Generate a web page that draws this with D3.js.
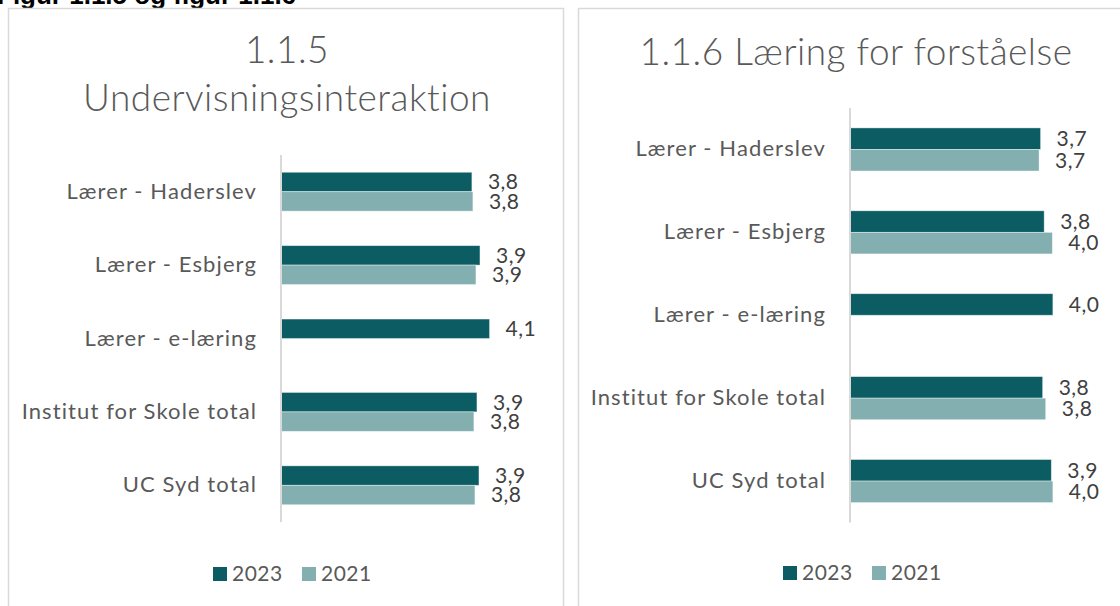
<!DOCTYPE html>
<html>
<head>
<meta charset="utf-8">
<script src="https://cdn.jsdelivr.net/npm/d3@7"></script>
<style>
  body { margin: 0; background: #fff; }
  svg text { font-family: Lato, "Noto Sans", sans-serif; }
</style>
</head>
<body>
<div id="chart"></div>
<script>
var categories = ["Lærer - Haderslev", "Lærer - Esbjerg", "Lærer - e-læring", "Institut for Skole total", "UC Syd total"];
var years = ["2023", "2021"];

// 1.1.5 Undervisningsinteraktion
var interaktion2023 = [3.78, 3.94, 4.13, 3.88, 3.92];
var interaktion2021 = [3.80, 3.86, null, 3.82, 3.84];

// 1.1.6 Læring for forståelse
var forstaaelse2023 = [3.73, 3.80, 3.97, 3.77, 3.94];
var forstaaelse2021 = [3.70, 3.96, null, 3.83, 3.97];

var colors = {"2023": "#0b5d63", "2021": "#84afb1"};
var fmt = function(v) { return d3.format(".1f")(v).replace(".", ","); };

var svg = d3.select("#chart")
  .append("svg")
  .attr("width", 1120)
  .attr("height", 606);

// heading, cut at the top of the page
svg.append("text")
  .attr("x", -3)
  .attr("y", 4)
  .style("font-family", "'Liberation Sans', Arial, sans-serif")
  .style("font-weight", "bold")
  .style("font-size", "26px")
  .attr("fill", "#000")
  .text("Figur 1.1.5 og figur 1.1.6");

// panel frames
svg.append("rect")
  .attr("x", 8.5).attr("y", 8.5)
  .attr("width", 555).attr("height", 640)
  .attr("fill", "none").attr("stroke", "#d9d9d9").attr("stroke-width", 1.5);

svg.append("rect")
  .attr("x", 578.5).attr("y", 8.5)
  .attr("width", 600).attr("height", 640)
  .attr("fill", "none").attr("stroke", "#d9d9d9").attr("stroke-width", 1.5);

function drawPanel(p) {
  var g = svg.append("g");

  // title
  var title = g.append("text")
    .attr("text-anchor", "middle")
    .attr("fill", "#595959")
    .style("font-size", "37px")
    .style("font-weight", 300)
    .style("letter-spacing", "0.5px");
  p.title.forEach(function(line, i) {
    title.append("tspan")
      .attr("x", p.titleX)
      .attr("y", p.titleY + i * 48)
      .text(line);
  });

  var x = d3.scaleLinear()
    .domain([0, 5])
    .range([p.left, p.right]);

  var y = d3.scaleBand()
    .domain(categories)
    .range([p.top, p.bottom])
    .paddingInner(p.pad)
    .paddingOuter(p.pad / 2);

  var y1 = d3.scaleBand()
    .domain(years)
    .range([0, y.bandwidth()]);

  var rows = categories.map(function(c, i) {
    return {cat: c, vals: [
      {year: "2023", v: p.v2023[i]},
      {year: "2021", v: p.v2021[i]}
    ]};
  });

  var groups = g.selectAll(".grp")
    .data(rows)
    .enter()
    .append("g")
    .attr("transform", function(d) { return "translate(0," + y(d.cat) + ")"; });

  var bars = groups.selectAll("rect")
    .data(function(d) { return d.vals.filter(function(e) { return e.v != null; }); })
    .enter();

  bars.append("rect")
    .attr("x", x(0))
    .attr("y", function(d) { return y1(d.year); })
    .attr("width", function(d) { return x(d.v) - x(0); })
    .attr("height", y1.bandwidth())
    .attr("fill", function(d) { return colors[d.year]; })
    .attr("stroke", "#ffffff")
    .attr("stroke-opacity", 0.5)
    .attr("stroke-width", 0.8);

  bars.append("text")
    .attr("x", function(d) { return x(d.v) + 16; })
    .attr("y", function(d) { return y1(d.year) + y1.bandwidth() / 2; })
    .attr("dy", "0.35em")
    .attr("fill", "#404040")
    .style("font-size", "21px")
    .style("letter-spacing", "0.5px")
    .text(function(d) { return fmt(d.v); });

  // category axis
  var axis = g.append("g")
    .attr("transform", "translate(" + x(0) + ",0)")
    .call(d3.axisLeft(y).tickSize(0).tickPadding(24));
  axis.select(".domain")
    .attr("stroke", "#d9d9d9")
    .attr("stroke-width", 2)
    .attr("d", "M0," + p.top + "V" + p.bottom);
  axis.selectAll("text")
    .attr("fill", "#595959")
    .style("font-family", "Lato, 'Noto Sans', sans-serif")
    .style("font-size", "22px")
    .style("letter-spacing", "1.1px");

  // legend
  var leg = g.append("g")
    .attr("transform", "translate(" + p.legendX + "," + p.legendY + ")");
  var item = leg.selectAll("g")
    .data(years)
    .enter()
    .append("g")
    .attr("transform", function(d, i) { return "translate(" + (i * 89) + ",0)"; });
  item.append("rect")
    .attr("x", 0).attr("y", -7)
    .attr("width", 14).attr("height", 14)
    .attr("fill", function(d) { return colors[d]; });
  item.append("text")
    .attr("x", 19)
    .attr("y", 0)
    .attr("dy", "0.35em")
    .attr("fill", "#595959")
    .style("font-size", "21px")
    .style("letter-spacing", "0.5px")
    .text(function(d) { return d; });
}

drawPanel({
  title: ["1.1.5", "Undervisningsinteraktion"],
  titleX: 287, titleY: 63,
  left: 281, right: 533.5, top: 155, bottom: 522, pad: 0.47,
  v2023: interaktion2023, v2021: interaktion2021,
  legendX: 213, legendY: 574
});

drawPanel({
  title: ["1.1.6 Læring for forståelse"],
  titleX: 856, titleY: 65,
  left: 850, right: 1105.5, top: 108, bottom: 522.5, pad: 0.48,
  v2023: forstaaelse2023, v2021: forstaaelse2021,
  legendX: 783, legendY: 573
});
</script>
</body>
</html>
